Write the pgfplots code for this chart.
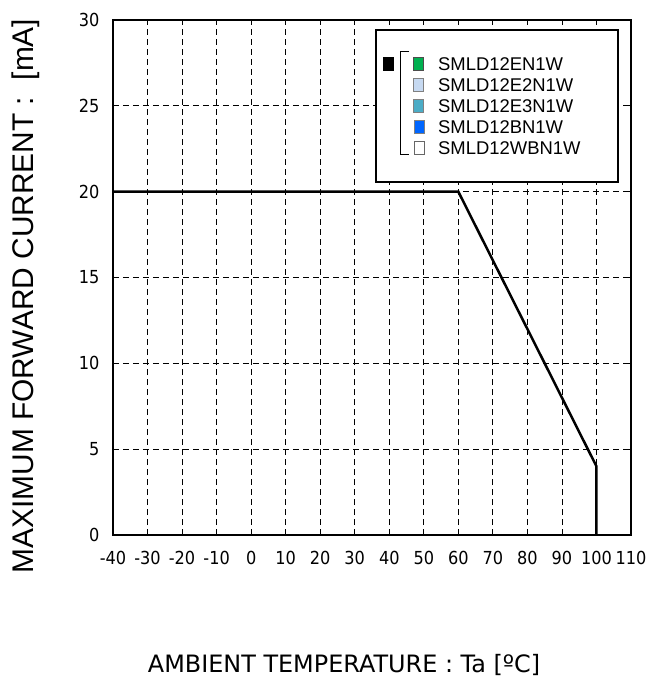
\documentclass[border=0pt]{standalone}
\usepackage{fontspec}
\setmainfont{DejaVu Sans}
\newfontfamily\arialfont{Liberation Sans}
\newfontfamily\condfont{DejaVu Sans Condensed}
\usepackage{pgfplots}
\pgfplotsset{compat=1.18}
\definecolor{cgreen}{RGB}{0,176,80}
\definecolor{clight}{RGB}{198,217,241}
\definecolor{cteal}{RGB}{75,172,198}
\definecolor{cblue}{RGB}{0,102,255}
\begin{document}
\begin{tikzpicture}[x=1bp,y=1bp]
\useasboundingbox (-113bp,-147bp) rectangle (545bp,535bp);
\begin{axis}[
  scale only axis, width=518bp, height=515bp,
  at={(0,0)}, anchor=south west,
  xmin=-40, xmax=110, ymin=0, ymax=30,
  xtick={-40,-30,...,110}, ytick={0,5,...,30},
  grid=major, major grid style={black, dashed, line width=0.8bp, dash pattern=on 6bp off 4bp},
  axis line style={black, line width=1.3bp},
  tick style={black, line width=0.8bp}, tick align=inside, major tick length=5bp,
  ticklabel style={font=\condfont\fontsize{18}{20}\selectfont},
  /pgf/number format/assume math mode=true,
  /pgf/number format/.cd, 1000 sep={}, /pgfplots/.cd,
  xticklabel style={yshift=-13bp},
  yticklabel style={xshift=-10bp},
  xlabel={AMBIENT TEMPERATURE : Ta [ºC]},
  xlabel style={font=\fontsize{24}{26}\selectfont, at={(0.446,0)}, anchor=center, yshift=-130bp},
  ylabel={\arialfont MAXIMUM FORWARD CURRENT :\ \ [mA]},
  ylabel style={font=\arialfont\fontsize{30}{32}\selectfont, at={(0,0.464)}, anchor=center, yshift=87bp},
  clip=false,
]
\addplot[black, line width=2.5bp] coordinates {(-40,20) (60,20) (100,4) (100,0)};
\end{axis}
% legend
\draw[black, line width=1.3bp, fill=white] (263,353) rectangle (505,505);
\fill[black] (270,464) rectangle (281,478);
\draw[black, line width=1bp] (296,483) -- (287,483) -- (287,380) -- (296,380);
\draw[black!70, fill=cgreen] (300,465) rectangle (310,478);
\draw[black!50, fill=clight] (300,444) rectangle (310,457);
\draw[black!50, fill=cteal] (300,423) rectangle (310,436);
\draw[black!50, fill=cblue] (301,402) rectangle (311,415);
\draw[black!60, fill=white] (301,381) rectangle (311,394);
\begin{scope}[every node/.style={anchor=west, inner sep=0pt, font=\arialfont\fontsize{18.5}{20}\selectfont}]
\node at (325,471) {SMLD12EN1W};
\node at (325,450) {SMLD12E2N1W};
\node at (325,429) {SMLD12E3N1W};
\node at (325,408) {SMLD12BN1W};
\node at (325,387) {SMLD12WBN1W};
\end{scope}
\end{tikzpicture}
\end{document}
